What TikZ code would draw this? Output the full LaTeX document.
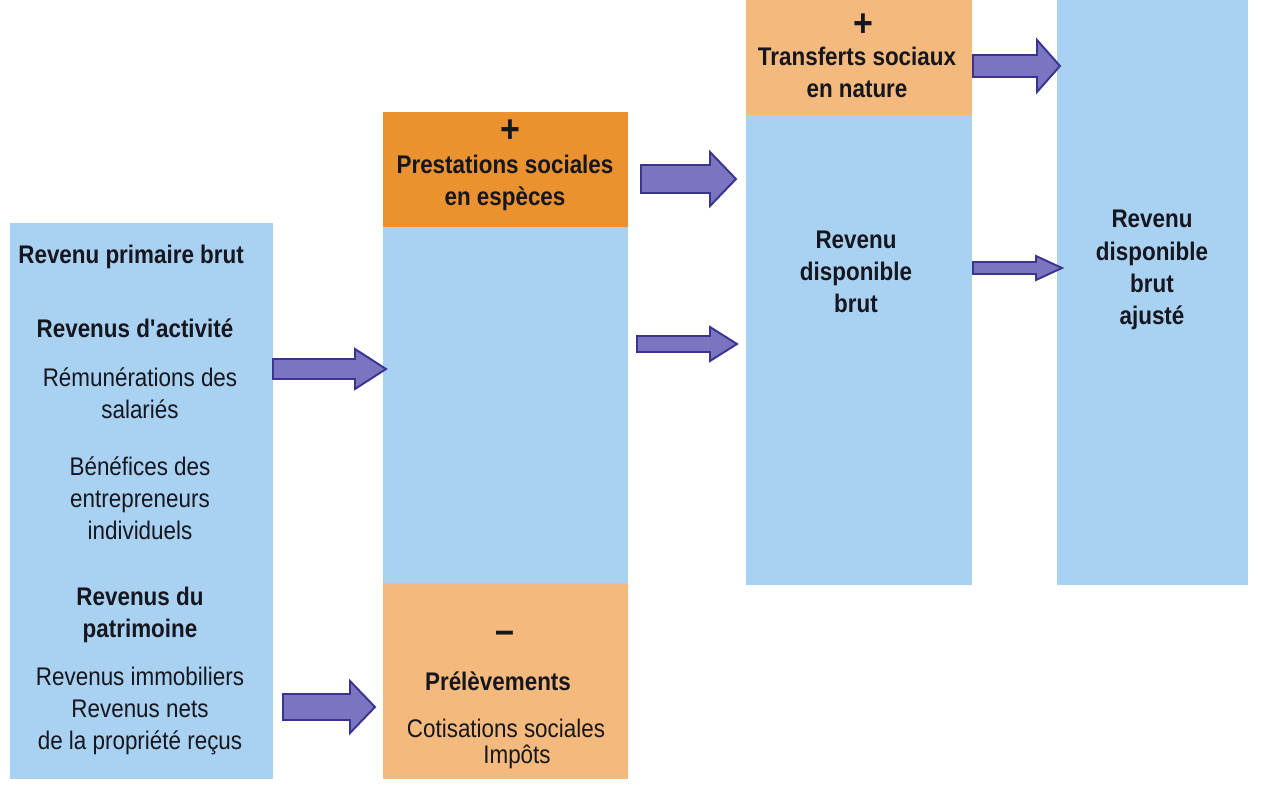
\documentclass[tikz,border=0pt]{standalone}
\usepackage{fontspec}
\setmainfont[FakeStretch=0.88]{Liberation Sans}
\usepackage{tikz}
\usetikzlibrary{positioning, calc}
\usepackage{xcolor}

\definecolor{bleuclair}{HTML}{A9D1F1}
\definecolor{orangefonce}{HTML}{EA922F}
\definecolor{orangeclair}{HTML}{F3B97D}
\definecolor{violet}{HTML}{7B74C0}
\definecolor{violetbord}{HTML}{3A348E}
\definecolor{encre}{HTML}{16161E}

\tikzset{
  texte/.style={text=encre, align=center, inner sep=0pt, font=\fontsize{14.5}{18.3}\selectfont},
  titre/.style={texte, font=\fontsize{14.5}{18.3}\selectfont\bfseries},
  signe/.style={texte, font=\fontsize{22}{24}\selectfont\bfseries},
  fleche/.style={fill=violet, draw=violetbord, line width=1.1pt, line join=miter}
}

% fleche epaisse : depart, base de la tete, pointe, milieu, demi-corps, demi-tete
\newcommand{\fleche}[6]{%
  \draw[fleche] (#1,#4-#5) -- (#2,#4-#5) -- (#2,#4-#6) -- (#3,#4)
    -- (#2,#4+#6) -- (#2,#4+#5) -- (#1,#4+#5) -- cycle;
}

\begin{document}
\begin{tikzpicture}[x=0.02cm, y=-0.02cm]
\useasboundingbox (0,0) rectangle (1262,811);

% revenu primaire
\fill[bleuclair] (10,223) rectangle (273,779);
\node[titre, anchor=west] (primaire) at (18,257) {Revenu primaire brut};
\node[titre] (activite) at (135,328) {Revenus d\textquotesingle activité};
\node[texte] (remun) at (140,393) {Rémunérations des\\salariés};
\node[texte] (benef) at (140,498) {Bénéfices des\\entrepreneurs\\individuels};
\node[titre] (patrim) at (140,615) {Revenus du\\patrimoine};
\node[texte] (immo) at (140,711) {Revenus immobiliers\\Revenus nets\\de la propriété reçus};

% prestations et prelevements
\fill[bleuclair] (383,112) rectangle (628,779);
\fill[orangefonce] (383,112) rectangle (628,227);
\fill[orangeclair] (383,583) rectangle (628,779);
\node[signe] (plus1) at (510,131) {+};
\node[titre] (prest) at (505,183) {Prestations sociales\\en espèces};
\node[signe] (moins) at (505,637) {--};
\node[titre] (prelev) at (498,681) {Prélèvements};
\node[texte] (cotis) at (506,728) {Cotisations sociales};
\node[texte] (impots) at (517,757) {Impôts};

% revenu disponible brut
\fill[bleuclair] (746,115) rectangle (972,585);
\fill[orangeclair] (746,0) rectangle (972,115);
\node[signe] (plus2) at (863,25) {+};
\node[titre] (transf) at (857,72) {Transferts sociaux\\en nature};
\node[titre] (rdb) at (856,272) {Revenu\\disponible\\brut};

% revenu disponible brut ajuste
\fill[bleuclair] (1057,0) rectangle (1248,585);
\node[titre] (rdba) at (1152,270) {Revenu\\disponible\\brut\\ajusté};

% fleches
\fleche{273}{355}{386}{369}{10}{20}
\fleche{283}{350}{375}{707}{13}{26}
\fleche{641}{710}{736}{179}{14}{27}
\fleche{637}{710}{737}{344}{8}{17}
\fleche{973}{1037}{1060}{66}{11}{26}
\fleche{973}{1036}{1062}{268}{6}{12}

\end{tikzpicture}
\end{document}
